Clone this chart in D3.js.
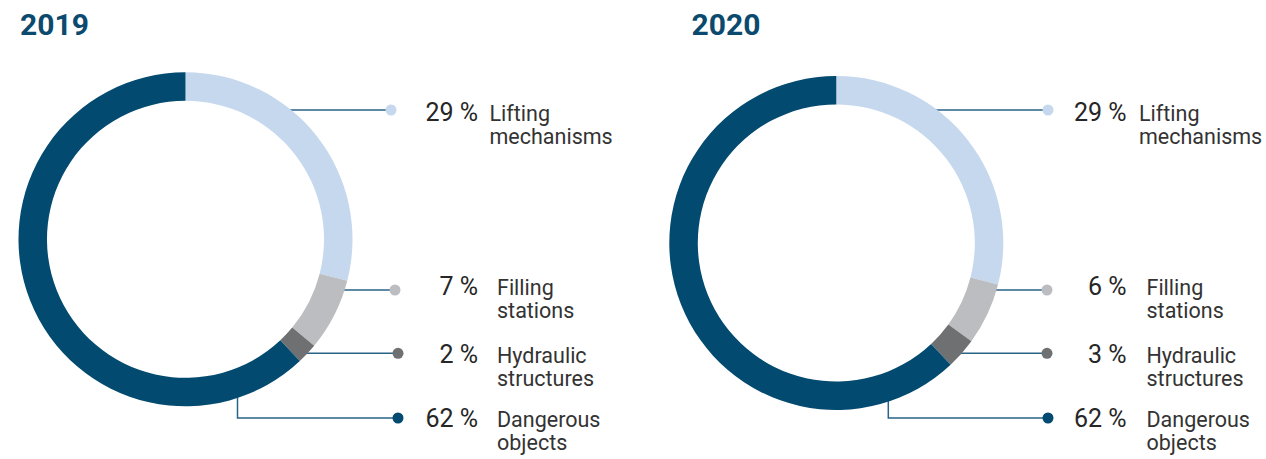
<!DOCTYPE html>
<html>
<head>
<meta charset="utf-8">
<script src="https://cdn.jsdelivr.net/npm/d3@7"></script>
<style>
  html, body { margin: 0; padding: 0; background: #ffffff; }
  svg { display: block; font-family: Roboto, "Noto Sans", sans-serif; }
</style>
</head>
<body>
<svg id="chart" width="1266" height="459"></svg>
<script>
// Share of inspected objects by type, per year
const years = ["2019", "2020"];
const categories = ["Lifting mechanisms", "Filling stations", "Hydraulic structures", "Dangerous objects"];
const labelLines = [["Lifting", "mechanisms"], ["Filling", "stations"], ["Hydraulic", "structures"], ["Dangerous", "objects"]];
const values2019 = [29, 7, 2, 62];
const values2020 = [29, 6, 3, 62];
const colors = ["#c5d8ee", "#bcbdc0", "#6f7072", "#024a6f"];

const seriesByYear = [values2019, values2020];

// Layout of each donut panel
const panels = [
  { cx: 185.5, cy: 239.3, titleX: 20,    pctX: 478,    labelX: 497,    liftLabelX: 489.5,  dotX: [391, 395, 398, 398] },
  { cx: 836.3, cy: 243,   titleX: 691.5, pctX: 1126.5, labelX: 1146.5, liftLabelX: 1139,   dotX: [1048, 1047, 1047, 1048] }
];
// Vertical placement of the callout rows
const rowLineY = [110, 290, 353.3, 418];
const rowTextY = [120.5, 295, 363, 427];
const lineGap = 23;

const R = 167, r = 138.5;
const dropDx = 52;

const svg = d3.select("#chart");
const pie = d3.pie().sort(null).value(d => d);
const arc = d3.arc().innerRadius(r).outerRadius(R);
const color = d3.scaleOrdinal().domain(categories).range(colors);

years.forEach((year, i) => {
  const p = panels[i];
  const values = seriesByYear[i];
  const g = svg.append("g");

  g.append("text")
    .attr("x", p.titleX)
    .attr("y", 35)
    .attr("fill", "#0b4a6e")
    .attr("font-size", 30)
    .attr("font-weight", 700)
    .text(year);

  // leader lines (drawn first so the ring covers their ends)
  const leaders = g.append("g")
    .attr("fill", "none")
    .attr("stroke", "#2a6388")
    .attr("stroke-width", 1.5);

  categories.forEach((c, k) => {
    const y = rowLineY[k];
    if (k < 3) {
      const x0 = p.cx + Math.sqrt(R * R - (y - p.cy) * (y - p.cy)) - 2;
      leaders.append("path").attr("d", `M${x0},${y}H${p.dotX[k]}`);
    } else {
      const x0 = p.cx + dropDx;
      const y0 = p.cy + Math.sqrt(R * R - dropDx * dropDx) - 2;
      leaders.append("path").attr("d", `M${x0},${y0}V${y}H${p.dotX[k]}`);
    }
  });

  // donut ring
  g.append("g")
    .attr("transform", `translate(${p.cx},${p.cy})`)
    .selectAll("path")
    .data(pie(values))
    .join("path")
    .attr("d", arc)
    .attr("fill", (d, k) => color(categories[k]));

  // callout dots, percentages and names
  categories.forEach((c, k) => {
    g.append("circle")
      .attr("cx", p.dotX[k])
      .attr("cy", rowLineY[k])
      .attr("r", 5.5)
      .attr("fill", color(c));

    g.append("text")
      .attr("x", p.pctX)
      .attr("y", rowTextY[k])
      .attr("text-anchor", "end")
      .attr("font-size", 25)
      .attr("fill", "#262626")
      .text(`${values[k]} %`);

    const t = g.append("text")
      .attr("x", k === 0 ? p.liftLabelX : p.labelX)
      .attr("y", rowTextY[k])
      .attr("font-size", 21.5)
      .attr("fill", "#333333");
    labelLines[k].forEach((line, j) => {
      t.append("tspan")
        .attr("x", k === 0 ? p.liftLabelX : p.labelX)
        .attr("dy", j === 0 ? 0 : lineGap)
        .text(line);
    });
  });
});
</script>
</body>
</html>
